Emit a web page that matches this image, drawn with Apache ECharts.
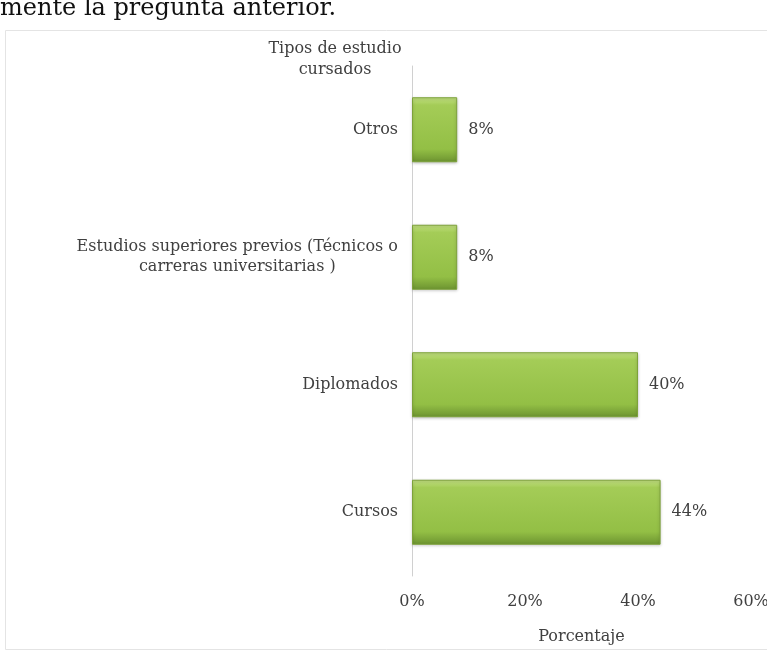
<!DOCTYPE html>
<html>
<head>
<meta charset="utf-8">
<title>Tipos de estudio cursados</title>
<script src="https://cdn.jsdelivr.net/npm/echarts@6/dist/echarts.min.js"></script>
<style>
  html, body { margin: 0; padding: 0; background: #fff; }
  #main { width: 767px; height: 653px; }
</style>
</head>
<body>
<div id="main"></div>
<script>
// datos (de abajo hacia arriba)
var categories = ['Cursos', 'Diplomados', 'Estudios superiores previos (Técnicos o\ncarreras universitarias )', 'Otros'];
var values = [44, 40, 8, 8];
var xTicks = [0, 20, 40, 60];

var serif = '"DejaVu Serif", "Liberation Serif", serif';

// ancho de la linea mas larga, para centrar la etiqueta de dos lineas
var ctx = document.createElement('canvas').getContext('2d');
ctx.font = '16px ' + serif;
function lineWidth(s) {
  return Math.max.apply(null, s.split('\n').map(function (l) { return ctx.measureText(l).width; }));
}

var chart = echarts.init(document.getElementById('main'));

var option = {
  animation: false,
  backgroundColor: '#fff',
  graphic: [
    // fragmento del texto del documento, cortado arriba
    { type: 'text', left: 0, top: -3, style: { text: 'mente la pregunta anterior.', font: '24px ' + serif, fill: '#111' } },
    // marco del grafico
    { type: 'rect', shape: { x: 5.5, y: 30.5, width: 770, height: 619 }, style: { fill: 'none', stroke: '#e4e4e4', lineWidth: 1 } }
  ],
  grid: { left: 412, right: 16, top: 66, bottom: 77, outerBoundsMode: 'none' },
  xAxis: {
    type: 'value',
    min: 0, max: 60, interval: 20,
    name: 'Porcentaje',
    nameLocation: 'middle',
    nameGap: 53,
    nameTextStyle: { fontFamily: serif, fontSize: 16, color: '#404040' },
    axisLine: { show: false },
    axisTick: { show: false },
    splitLine: { show: false },
    axisLabel: {
      margin: 18,
      fontFamily: serif, fontSize: 16, color: '#404040',
      formatter: function (v) { return xTicks.indexOf(v) >= 0 ? v + '%' : ''; }
    }
  },
  yAxis: {
    type: 'category',
    data: categories,
    name: 'Tipos de estudio\ncursados',
    nameLocation: 'end',
    nameGap: -14,
    nameTextStyle: { fontFamily: serif, fontSize: 16, color: '#404040', align: 'center', padding: [0, 0, 0, -154], lineHeight: 21 },
    axisLine: { show: true, lineStyle: { color: '#d0d0d0', width: 1 } },
    axisTick: { show: false },
    axisLabel: {
      margin: 14, align: 'right',
      fontFamily: serif, fontSize: 16, color: '#404040',
      formatter: function (v) {
        if (v.indexOf('\n') < 0) return v;
        return v.split('\n').map(function (l) { return '{c|' + l + '}'; }).join('\n');
      },
      rich: {
        c: { fontFamily: serif, fontSize: 16, color: '#404040', align: 'center', lineHeight: 20, width: lineWidth(categories[2]) }
      }
    }
  },
  series: [{
    type: 'bar',
    data: values,
    barWidth: '51%',
    itemStyle: {
      color: new echarts.graphic.LinearGradient(0, 0, 0, 1, [
        { offset: 0, color: '#c4e283' },
        { offset: 0.12, color: '#a4cc57' },
        { offset: 0.8, color: '#93bf45' },
        { offset: 1, color: '#6c9330' }
      ]),
      borderColor: '#7da23a',
      borderWidth: 1,
      shadowColor: 'rgba(0,0,0,0.25)',
      shadowBlur: 3,
      shadowOffsetY: 1
    },
    label: {
      show: true,
      position: 'right',
      distance: 11,
      fontFamily: serif, fontSize: 16, color: '#404040',
      formatter: '{c}%'
    }
  }]
};
chart.setOption(option);
</script>
</body>
</html>
